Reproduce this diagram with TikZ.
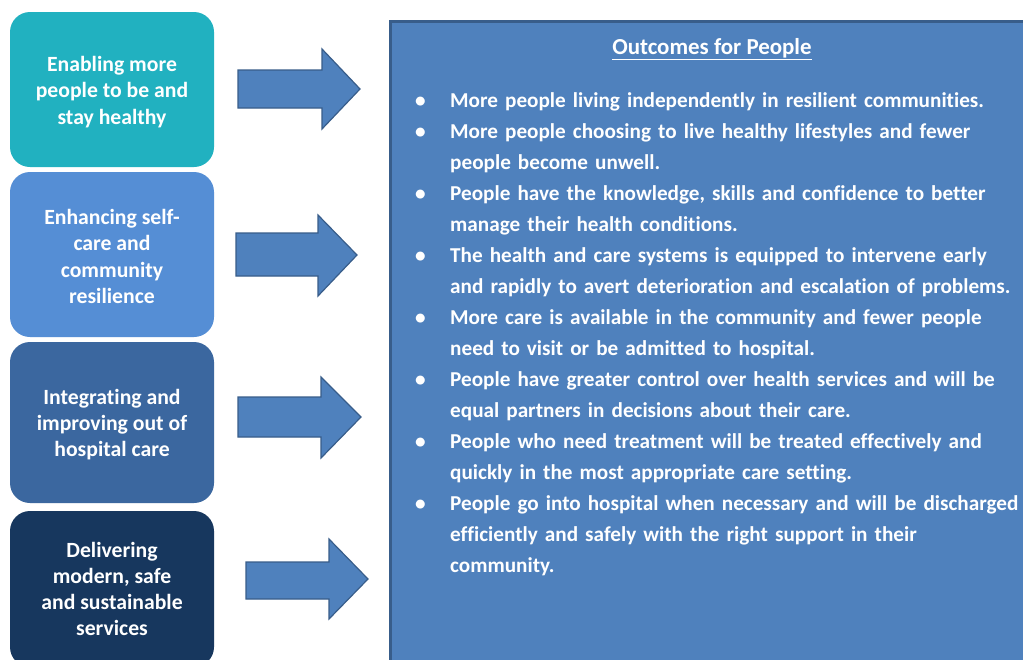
\documentclass[tikz,border=0pt]{standalone}
\usepackage{fontspec}
\setmainfont{Carlito}[BoldFont={Carlito Bold}, Ligatures=NoCommon]
\definecolor{tealbox}{RGB}{33,177,192}
\definecolor{midbox}{RGB}{85,142,213}
\definecolor{darkbox}{RGB}{59,103,159}
\definecolor{navybox}{RGB}{23,55,94}
\definecolor{arrowfill}{RGB}{79,129,189}
\definecolor{arrowline}{RGB}{56,93,138}
\tikzset{
  themebox/.style={rounded corners=20pt, minimum width=204pt, inner sep=0pt},
  boxtext/.style={inner sep=0pt, align=center, text=white,
     font=\fontsize{21.7}{26.3}\selectfont\bfseries},
  blockarrow/.style={fill=arrowfill, draw=arrowline, line width=1.2pt, line join=miter},
  panel/.style={fill=arrowfill, draw=arrowline, line width=3pt},
  itemtext/.style={text=white, inner sep=0pt, text width=640pt, align=left,
     font=\fontsize{21.2}{31}\selectfont\bfseries}
}
\newcommand{\blockarr}[8]{%
  \draw[blockarrow] (#1,#2) -- (#4,#2) -- (#4,#5) -- (#7,#8) -- (#4,#6) -- (#4,#3) -- (#1,#3) -- cycle;}
\newcommand{\bitem}[1]{\hangindent=36pt\hangafter=1\noindent\makebox[36pt][l]{\hspace{1pt}\textbullet}#1\par}
\begin{document}
\begin{tikzpicture}[x=1pt,y=-1pt]
\clip (0,0) rectangle (1023,659);
\fill[white] (0,0) rectangle (1023,659);
% left theme boxes
\node[themebox, fill=tealbox, minimum height=155pt] (b1) at (112,89.5) {};
\node[themebox, fill=midbox, minimum height=165pt] (b2) at (112,254.5) {};
\node[themebox, fill=darkbox, minimum height=161pt] (b3) at (112,422.5) {};
\node[themebox, fill=navybox, minimum height=156pt] (b4) at (112,589) {};
\node[boxtext] (t1) at ([yshift=-2.5pt]b1.center) {Enabling more\\people to be and\\stay healthy};
\node[boxtext] (t2) at ([yshift=-2pt]b2.center) {Enhancing self-\\care and\\community\\resilience};
\node[boxtext] (t3) at ([yshift=-2pt]b3.center) {Integrating and\\improving out of\\hospital care};
\node[boxtext] (t4) at (b4.center) {Delivering\\modern, safe\\and sustainable\\services};
% block arrows
\blockarr{238}{70}{108}{322}{49}{129}{360}{89}
\blockarr{236}{233}{276}{318}{215}{296}{357}{255}
\blockarr{238}{397}{437}{321}{377}{458}{361}{417}
\blockarr{246}{562}{599}{329}{539}{619}{368}{579}
% outcomes panel
\draw[panel] (390,21) rectangle (1045,690);
\node[text=white, inner sep=0pt, font=\fontsize{22.9}{27}\selectfont\bfseries, anchor=base] (title) at (712,54) {\underline{Outcomes for People}};
\node[itemtext, anchor=base west] (list) at (414,107.5) {%
\bitem{More people living independently in resilient communities.}%
\bitem{More people choosing to live healthy lifestyles and fewer\newline people become unwell.}%
\bitem{People have the knowledge, skills and confidence to better\newline manage their health conditions.}%
\bitem{The health and care systems is equipped to intervene early\newline and rapidly to avert deterioration and escalation of problems.}%
\bitem{More care is available in the community and fewer people\newline need to visit or be admitted to hospital.}%
\bitem{People have greater control over health services and will be\newline equal partners in decisions about their care.}%
\bitem{People who need treatment will be treated effectively and\newline quickly in the most appropriate care setting.}%
\bitem{People go into hospital when necessary and will be discharged\newline efficiently and safely with the right support in their\newline community.}%
};
\end{tikzpicture}
\end{document}
